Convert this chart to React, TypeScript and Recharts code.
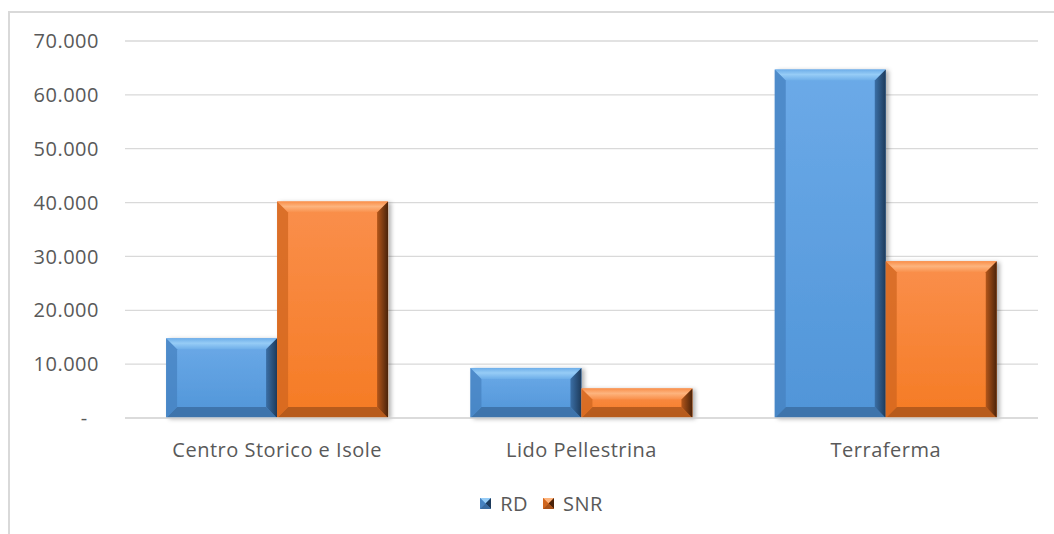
import { Bar, BarChart, CartesianGrid, Legend, XAxis, YAxis } from "recharts";

const categories = ["Centro Storico e Isole", "Lido Pellestrina", "Terraferma"];
const rdValues = [14800, 9300, 64700];
const snrValues = [40200, 5500, 29100];
const yTicks = [0, 10000, 20000, 30000, 40000, 50000, 60000, 70000];

const data = categories.map((name, i) => ({ name, RD: rdValues[i], SNR: snrValues[i] }));

const FONT = "'Open Sans', sans-serif";
const TEXT = "#595959";
const tickStyle = { fill: TEXT, fontSize: 20, fontFamily: FONT, letterSpacing: 0.5 };

const palettes: Record<string, any> = {
  RD: {
    top: "#6caae8", bottom: "#5095d8", hi: "#96ccf6", hi2: "#6eaee9", left: "#4682c0",
    right: "#1d3a5a", right2: "#3b6fa6", low: "#3a6ba0", id: "RD",
  },
  SNR: {
    top: "#fa8f4c", bottom: "#f57b24", hi: "#fdb47e", hi2: "#f98f4a", left: "#d0661f",
    right: "#4a230a", right2: "#b3561a", low: "#a8521a", id: "SNR",
  },
};

function formatTick(v: number) {
  if (v === 0) return "-\u00a0\u00a0";
  return v.toLocaleString("de-DE");
}

function BevelBar(props: any) {
  const { x, y, width, height, dataKey } = props;
  if (!height || height <= 0) return null;
  const p = palettes[dataKey];
  const b = Math.min(11, height / 2, width / 2);
  const x2 = x + width;
  const y2 = y + height;
  return (
    <g>
      <rect x={x} y={y} width={width} height={height} fill={`url(#body${p.id})`} filter="url(#shadow)" />
      <polygon points={`${x},${y} ${x2},${y} ${x2 - b},${y + b} ${x + b},${y + b}`} fill={`url(#top${p.id})`} />
      <polygon points={`${x},${y2} ${x2},${y2} ${x2 - b},${y2 - b} ${x + b},${y2 - b}`} fill={p.low} opacity={0.8} />
      <polygon points={`${x},${y} ${x + b},${y + b} ${x + b},${y2 - b} ${x},${y2}`} fill={p.left} opacity={0.75} />
      <polygon points={`${x2},${y} ${x2 - b},${y + b} ${x2 - b},${y2 - b} ${x2},${y2}`} fill={`url(#right${p.id})`} />
    </g>
  );
}

function LegendIcon({ k }: { k: string }) {
  const p = palettes[k];
  const s = 11;
  const h = s / 2;
  return (
    <svg width={s} height={s} style={{ marginRight: 9 }}>
      <rect width={s} height={s} fill={p.bottom} />
      <polygon points={`0,0 ${s},0 ${h},${h}`} fill={p.hi} />
      <polygon points={`${s},0 ${s},${s} ${h},${h}`} fill={p.right} />
      <polygon points={`0,0 0,${s} ${h},${h}`} fill={p.left} />
      <polygon points={`0,${s} ${s},${s} ${h},${h}`} fill={p.low} />
    </svg>
  );
}

function LegendContent() {
  return (
    <div style={{ display: "flex", justifyContent: "center", alignItems: "center", fontFamily: FONT, fontSize: 20, letterSpacing: 0.5, color: TEXT, paddingLeft: 60, marginTop: 1 }}>
      {["RD", "SNR"].map((k) => (
        <span key={k} style={{ display: "flex", alignItems: "center", marginRight: 15 }}>
          <LegendIcon k={k} />
          {k}
        </span>
      ))}
    </div>
  );
}

export default function App() {
  return (
    <div style={{ position: "absolute", left: 0, top: 0, width: 1054, height: 534, background: "#fff", overflow: "hidden" }}>
      <div style={{ position: "absolute", left: 8, top: 11, width: 1100, height: 600, borderLeft: "2px solid #d9d9d9", borderTop: "2px solid #d9d9d9" }} />
      <div style={{ position: "absolute", left: 0, top: 0 }}>
        <BarChart
          width={1054}
          height={534}
          data={data}
          margin={{ top: 41, right: 16, left: 0, bottom: 15 }}
          barGap={0}
          barCategoryGap="13.5%"
        >
          <defs>
            {Object.values(palettes).map((p: any) => (
              <g key={p.id}>
                <linearGradient id={`body${p.id}`} x1="0" y1="0" x2="0" y2="1">
                  <stop offset="0%" stopColor={p.top} />
                  <stop offset="100%" stopColor={p.bottom} />
                </linearGradient>
                <linearGradient id={`top${p.id}`} x1="0" y1="0" x2="0" y2="1">
                  <stop offset="0%" stopColor={p.hi2} />
                  <stop offset="45%" stopColor={p.hi} />
                  <stop offset="100%" stopColor={p.hi2} />
                </linearGradient>
                <linearGradient id={`right${p.id}`} x1="0" y1="0" x2="1" y2="0">
                  <stop offset="0%" stopColor={p.right2} />
                  <stop offset="100%" stopColor={p.right} />
                </linearGradient>
              </g>
            ))}
            <filter id="shadow" x="-10%" y="-10%" width="130%" height="130%">
              <feDropShadow dx="3" dy="1" stdDeviation="2" floodColor="#000" floodOpacity="0.3" />
            </filter>
          </defs>
          <CartesianGrid vertical={false} stroke="#d9d9d9" strokeWidth={1.3} />
          <XAxis
            dataKey="name"
            height={71}
            tickLine={false}
            tickSize={0}
            tickMargin={25}
            axisLine={{ stroke: "#d9d9d9", strokeWidth: 1.5 }}
            tick={tickStyle}
          />
          <YAxis
            width={125}
            domain={[0, 70000]}
            ticks={yTicks}
            tickFormatter={formatTick}
            axisLine={false}
            tickLine={false}
            tickSize={0}
            tickMargin={26}
            tick={tickStyle}
          />
          <Legend verticalAlign="bottom" height={30} content={<LegendContent />} />
          <Bar dataKey="RD" fill="#5b9bd5" shape={<BevelBar />} isAnimationActive={false} />
          <Bar dataKey="SNR" fill="#ed7d31" shape={<BevelBar />} isAnimationActive={false} />
        </BarChart>
      </div>
    </div>
  );
}
